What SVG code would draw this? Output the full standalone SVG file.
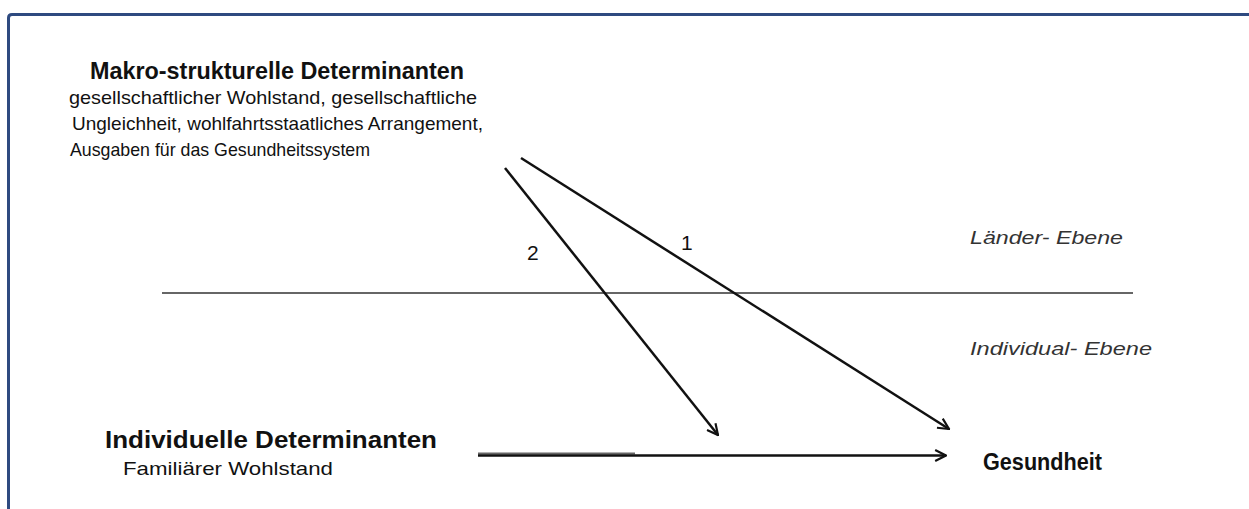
<svg xmlns="http://www.w3.org/2000/svg" width="1249" height="509" viewBox="0 0 1249 509">
<style>
.t{font-family:"Liberation Sans",Arial,sans-serif;fill:#111}
.b{font-weight:bold;font-size:24px}
.s{font-size:19px}
.i{font-style:italic;font-size:18px;fill:#333}
.c{stroke:#111;stroke-width:2.5;fill:none}
</style>
<defs>
<marker id="ah" viewBox="0 0 12 12" refX="11" refY="6" markerWidth="13" markerHeight="13" markerUnits="userSpaceOnUse" orient="auto">
<polyline points="1,1 11,6 1,11" fill="none" stroke="#111" stroke-width="2"/>
</marker>
</defs>
<rect width="1249" height="509" fill="#fff"/>
<path d="M8.5,520 V18 Q8.5,14.5 12,14.5 H1260" fill="none" stroke="#2e4a80" stroke-width="3"/>
<line x1="162" y1="293" x2="1133" y2="293" stroke="#666" stroke-width="2.2"/>
<g id="makro">
<text class="t b" x="90" y="79" textLength="374" lengthAdjust="spacingAndGlyphs">Makro-strukturelle Determinanten</text>
<text class="t s" x="69" y="104" textLength="408" lengthAdjust="spacingAndGlyphs">gesellschaftlicher Wohlstand, gesellschaftliche</text>
<text class="t s" x="72" y="130" textLength="411" lengthAdjust="spacingAndGlyphs">Ungleichheit, wohlfahrtsstaatliches Arrangement,</text>
<text class="t s" x="70" y="156" textLength="300" lengthAdjust="spacingAndGlyphs">Ausgaben für das Gesundheitssystem</text>
</g>
<g id="individuell">
<text class="t b" x="105" y="448" textLength="332" lengthAdjust="spacingAndGlyphs">Individuelle Determinanten</text>
<text class="t s" x="123" y="475" font-size="17" textLength="210" lengthAdjust="spacingAndGlyphs">Familiärer Wohlstand</text>
</g>
<g id="gesundheit">
<text class="t" x="983" y="470" font-weight="bold" font-size="23" textLength="119" lengthAdjust="spacingAndGlyphs">Gesundheit</text>
</g>
<g id="ebenen">
<text class="t i" x="970" y="244" textLength="153" lengthAdjust="spacingAndGlyphs">Länder- Ebene</text>
<text class="t i" x="970" y="355" textLength="182" lengthAdjust="spacingAndGlyphs">Individual- Ebene</text>
</g>
<g id="connectors">
<line class="c" x1="521" y1="158" x2="949" y2="429" marker-end="url(#ah)"/>
<line class="c" x1="505" y1="168" x2="718" y2="435" marker-end="url(#ah)"/>
<line x1="478" y1="453.5" x2="635" y2="453.5" stroke="#666" stroke-width="2"/>
<line class="c" x1="478" y1="455.5" x2="946" y2="455.5" stroke-width="1.8" marker-end="url(#ah)"/>
<text class="t" x="527" y="260" font-size="21">2</text>
<text class="t" x="681" y="250" font-size="21">1</text>
</g>
</svg>
